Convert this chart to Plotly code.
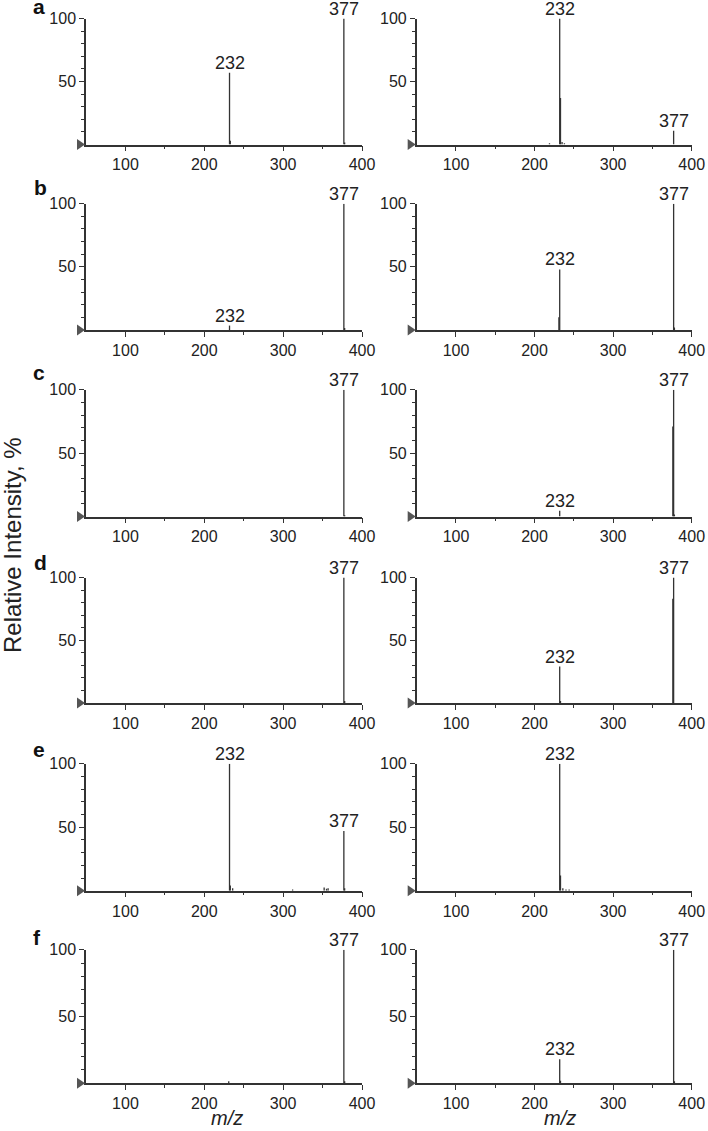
import plotly.graph_objects as go

# ---------------- data (m/z, relative intensity %) ----------------
panel_letters = ["a", "b", "c", "d", "e", "f"]

a_left_mz = [232, 233, 377, 378]
a_left_int = [57, 3, 100, 1.5]
a_right_mz = [219, 232, 233, 235, 238, 377]
a_right_int = [1, 100, 37, 2, 1, 11]

b_left_mz = [232, 377, 378]
b_left_int = [3.5, 100, 1.5]
b_right_mz = [231, 232, 377, 378]
b_right_int = [10, 48, 100, 2]

c_left_mz = [377, 378]
c_left_int = [100, 1]
c_right_mz = [232, 376, 377, 378]
c_right_int = [4.5, 71, 100, 1.5]

d_left_mz = [377, 378]
d_left_int = [100, 1.5]
d_right_mz = [232, 233, 376, 377]
d_right_int = [29, 1.5, 83, 100]

e_left_mz = [232, 233, 236, 312, 352, 355, 357, 377, 378]
e_left_int = [100, 4, 2, 1, 2.5, 1.5, 2, 47, 2]
e_right_mz = [232, 233, 236, 240, 244]
e_right_int = [100, 12, 2, 1, 1]

f_left_mz = [231, 377, 378]
f_left_int = [1.5, 100, 1.5]
f_right_mz = [232, 233, 377, 378]
f_right_int = [18, 2, 100, 1.5]

a_left_labels = [232, 377]
a_right_labels = [232, 377]
b_left_labels = [232, 377]
b_right_labels = [232, 377]
c_left_labels = [377]
c_right_labels = [232, 377]
d_left_labels = [377]
d_right_labels = [232, 377]
e_left_labels = [232, 377]
e_right_labels = [232]
f_left_labels = [377]
f_right_labels = [232, 377]

x_ticks = [100, 200, 300, 400]
x_minor = [150, 250, 350]
y_ticks = [50, 100]
y_minor = [10, 20, 30, 40, 60, 70, 80, 90]

panels = [
    (a_left_mz, a_left_int, a_left_labels), (a_right_mz, a_right_int, a_right_labels),
    (b_left_mz, b_left_int, b_left_labels), (b_right_mz, b_right_int, b_right_labels),
    (c_left_mz, c_left_int, c_left_labels), (c_right_mz, c_right_int, c_right_labels),
    (d_left_mz, d_left_int, d_left_labels), (d_right_mz, d_right_int, d_right_labels),
    (e_left_mz, e_left_int, e_left_labels), (e_right_mz, e_right_int, e_right_labels),
    (f_left_mz, f_left_int, f_left_labels), (f_right_mz, f_right_int, f_right_labels),
]

# ---------------- layout geometry (pixels) ----------------
W, H = 708, 1131
col_x = [(86.0, 362.0), (416.7, 691.7)]
row_y = [(18.5, 144.5), (203.7, 330.0), (389.7, 516.5),
         (577.5, 703.0), (763.8, 890.7), (949.7, 1083.3)]
# letter x-centre and text baseline (px)
letter_pos = [(39, 14), (40, 195), (39, 380), (40, 570), (39, 757), (37, 945)]

FONT = "Liberation Sans, Arial, sans-serif"
INK = "#333333"
TXT = "#222222"

fig = go.Figure()
layout = dict(
    width=W, height=H, margin=dict(l=0, r=0, t=0, b=0, autoexpand=False),
    paper_bgcolor="white", plot_bgcolor="white", showlegend=False,
    font=dict(family=FONT, color=TXT),
)
annotations = []
shapes = []


def px2paper(px, py):
    return px / W, 1 - py / H


for i, (mz, inten, labels) in enumerate(panels):
    r, c = divmod(i, 2)
    k = i + 1
    xs = "x" if k == 1 else f"x{k}"
    ys = "y" if k == 1 else f"y{k}"
    xkey = "xaxis" if k == 1 else f"xaxis{k}"
    ykey = "yaxis" if k == 1 else f"yaxis{k}"

    px0, px1 = col_x[c]
    py0, py1 = row_y[r]
    layout[xkey] = dict(
        domain=[px0 / W, px1 / W], anchor=ys, range=[50, 400], automargin=False,
        showline=True, linecolor=INK, linewidth=1.5, mirror=False,
        ticks="outside", ticklen=5, tickwidth=1.2, tickcolor=INK,
        tickmode="array", tickvals=x_ticks,
        minor=dict(tickmode="array", tickvals=x_minor, ticks="outside",
                   ticklen=3, tickwidth=1, tickcolor=INK),
        showgrid=False, zeroline=False, fixedrange=True,
        tickfont=dict(size=16, family=FONT, color=TXT),
    )
    layout[ykey] = dict(
        domain=[1 - py1 / H, 1 - py0 / H], anchor=xs, range=[0, 100], automargin=False,
        showline=True, linecolor=INK, linewidth=1.5,
        ticks="outside", ticklen=5, tickwidth=1.2, tickcolor=INK,
        tickmode="array", tickvals=y_ticks,
        minor=dict(tickmode="array", tickvals=y_minor, ticks="outside",
                   ticklen=3, tickwidth=1, tickcolor=INK),
        showgrid=False, zeroline=False, fixedrange=True,
        tickfont=dict(size=16, family=FONT, color=TXT),
    )

    sx, sy = [], []
    for m, h in zip(mz, inten):
        sx += [m, m, None]
        sy += [0, h, None]
    fig.add_trace(go.Scatter(x=sx, y=sy, mode="lines", xaxis=xs, yaxis=ys,
                             line=dict(color=INK, width=1.3), cliponaxis=False,
                             hoverinfo="skip"))

    # start-of-axis triangle decoration, left of the axis origin (paper coords)
    ax, ay = px0, py1
    p1 = px2paper(ax - 9, ay - 5.5)
    p2 = px2paper(ax - 9, ay + 5.5)
    p3 = px2paper(ax - 1, ay)
    shapes.append(dict(type="path", xref="paper", yref="paper",
                       path=f"M {p1[0]:.5f},{p1[1]:.5f} L {p2[0]:.5f},{p2[1]:.5f} "
                            f"L {p3[0]:.5f},{p3[1]:.5f} Z",
                       fillcolor="#555555", line=dict(width=0), layer="above"))

    for lab in labels:
        h = max(hh for mm, hh in zip(mz, inten) if mm == lab)
        annotations.append(dict(x=lab, y=h, xref=xs, yref=ys, text=str(lab),
                                showarrow=False, yanchor="bottom", xanchor="center",
                                yshift=-2, font=dict(size=18, family=FONT, color=TXT)))

for letter, (lx, base) in zip(panel_letters, letter_pos):
    annotations.append(dict(x=lx / W, y=1 - (base + 5.6) / H, xref="paper", yref="paper",
                            text=f"<b>{letter}</b>", showarrow=False,
                            xanchor="center", yanchor="bottom",
                            font=dict(size=21, family=FONT, color="#111111")))

annotations.append(dict(x=13 / W, y=1 - 545 / H, xref="paper", yref="paper",
                        text="Relative Intensity, %", textangle=-90, showarrow=False,
                        xanchor="center", yanchor="middle",
                        font=dict(size=24, family=FONT, color=TXT)))
for cx in (227, 560):
    annotations.append(dict(x=cx / W, y=0, xref="paper", yref="paper",
                            text="<i>m/z</i>", showarrow=False,
                            xanchor="center", yanchor="bottom",
                            font=dict(size=20, family=FONT, color=TXT)))

layout["annotations"] = annotations
layout["shapes"] = shapes
fig.update_layout(**layout)
fig.write_html("out.html", config={"displayModeBar": False},
               post_script="document.body.style.margin='0';document.body.style.overflow='hidden';")
